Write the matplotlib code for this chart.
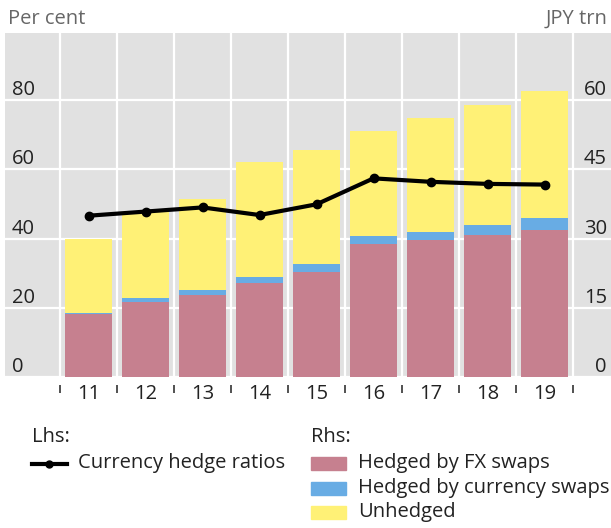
import numpy as np
import matplotlib
matplotlib.use("Agg")
import matplotlib.pyplot as plt
from matplotlib.lines import Line2D
from matplotlib.patches import Rectangle

plt.rcParams['font.family'] = ['Open Sans', 'DejaVu Sans']

# data
years = ['11', '12', '13', '14', '15', '16', '17', '18', '19']
fx_swaps = [13.6, 16.2, 17.8, 20.4, 22.7, 28.8, 29.7, 30.8, 31.8]        # JPY trn
ccy_swaps = [0.3, 0.9, 1.0, 1.3, 1.8, 1.7, 1.7, 2.1, 2.6]                # JPY trn
unhedged = [16.0, 18.6, 19.8, 24.9, 24.7, 22.8, 24.7, 26.0, 27.5]        # JPY trn
hedge_ratio = [46.6, 47.8, 49.0, 46.8, 49.9, 57.4, 56.4, 55.8, 55.6]     # per cent

left_ticks = [0, 20, 40, 60, 80]
right_ticks = [0, 15, 30, 45, 60]

c_pink = '#c6808f'
c_blue = '#68ace4'
c_yellow = '#fff176'
c_bg = '#e1e1e1'
c_text = '#222222'
fs = 14.5

W, H = 611, 528
fig = plt.figure(figsize=(W / 100, H / 100), dpi=100)
ax = fig.add_axes([5 / W, (H - 377) / H, (W - 5) / W, 344 / H])
ax2 = ax.twinx()

x = np.arange(len(years))
fx = np.array(fx_swaps)
cs = np.array(ccy_swaps)
un = np.array(unhedged)

# bars on the rhs scale (ax), line on the lhs scale (ax2, drawn on top)
bw = 0.84
ax.bar(x, fx, bw, color=c_pink, zorder=2)
ax.bar(x, cs, bw, bottom=fx, color=c_blue, zorder=2)
ax.bar(x, un, bw, bottom=fx + cs, color=c_yellow, zorder=2)

ax2.plot(x, hedge_ratio, color='black', lw=3, marker='o', ms=6, zorder=3)

ax.set_xlim(-0.5 - 55 / 57, 8.5 + 38 / 57)
ax.set_ylim(0, 74.55)
ax2.set_ylim(0, 99.4)

ax.set_facecolor(c_bg)
for a in (ax, ax2):
    for s in a.spines.values():
        s.set_visible(False)

# rhs ticks: labels inside the plot, sitting on the gridlines
ax.yaxis.tick_right()
ax.set_yticks(right_ticks)
ax.tick_params(axis='y', length=0, pad=-3, labelsize=fs, labelcolor=c_text)
for lab in ax.get_yticklabels():
    lab.set_ha('right')
    lab.set_va('bottom')

ax2.yaxis.tick_left()
ax2.set_yticks(left_ticks)
ax2.tick_params(axis='y', length=0, pad=-5, labelsize=fs, labelcolor=c_text)
for lab in ax2.get_yticklabels():
    lab.set_ha('left')
    lab.set_va('bottom')

# x axis: labels at centres, small ticks at the category borders
ax.spines['bottom'].set_position(('outward', 6))
ax.set_xticks(x)
ax.set_xticklabels(years)
ax.set_xticks(np.arange(-0.5, len(years)), minor=True)
ax.tick_params(axis='x', which='major', length=0, pad=-1, labelsize=fs, labelcolor=c_text)
ax.tick_params(axis='x', which='minor', length=5.5, width=1.2, color='#333333', direction='out')

ax.set_axisbelow(True)
ax.grid(True, axis='y', which='major', color='white', lw=1.6)
ax.grid(True, axis='x', which='minor', color='white', lw=1.6)

fig.text(8 / W, 1 - 19 / H, 'Per cent', ha='left', va='center', fontsize=fs, color='#666666')
fig.text(608 / W, 1 - 19 / H, 'JPY trn', ha='right', va='center', fontsize=fs, color='#666666')

# legend, drawn by hand
fig.text(32 / W, 1 - 437 / H, 'Lhs:', ha='left', va='center', fontsize=fs, color=c_text)
fig.add_artist(Line2D([32 / W, 67 / W], [1 - 464 / H] * 2, color='black', lw=3,
                      transform=fig.transFigure))
fig.add_artist(Line2D([49.5 / W], [1 - 464 / H], color='black', marker='o', ms=5,
                      transform=fig.transFigure))
fig.text(78 / W, 1 - 463 / H, 'Currency hedge ratios', ha='left', va='center', fontsize=fs, color=c_text)

fig.text(311 / W, 1 - 437 / H, 'Rhs:', ha='left', va='center', fontsize=fs, color=c_text)
rows = [('Hedged by FX swaps', c_pink, 463),
        ('Hedged by currency swaps', c_blue, 488),
        ('Unhedged', c_yellow, 512)]
for label, col, yc in rows:
    fig.add_artist(Rectangle((311 / W, 1 - (yc + 6.5) / H), 35 / W, 13 / H,
                             color=col, transform=fig.transFigure))
    fig.text(358 / W, 1 - yc / H, label, ha='left', va='center', fontsize=fs, color=c_text)

fig.savefig('out.png', dpi=100)
